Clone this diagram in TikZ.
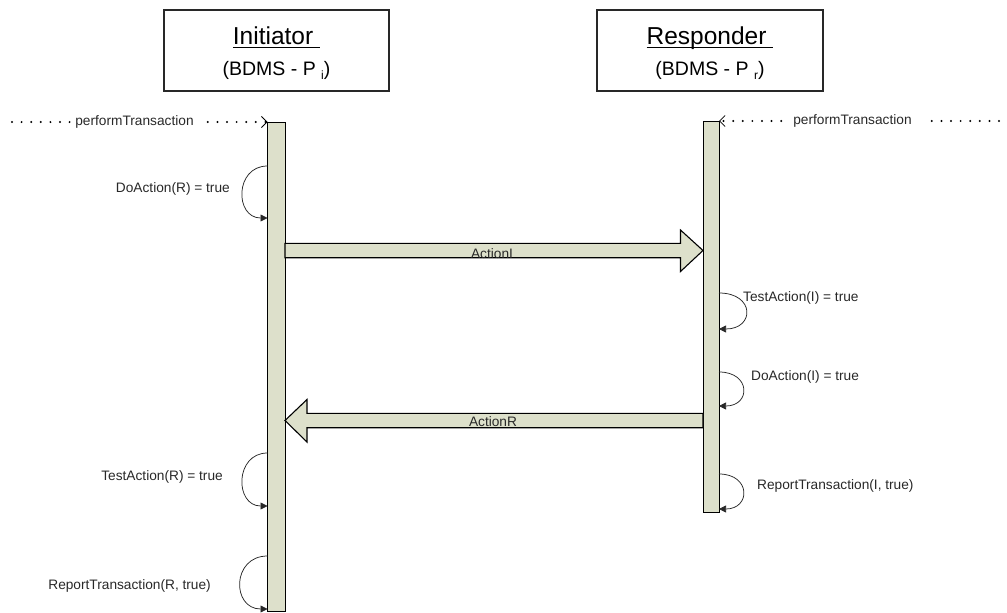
\documentclass[tikz,border=0pt]{standalone}
\usepackage{fontspec}
\setmainfont{Liberation Sans}
\usetikzlibrary{arrows.meta,calc}
\definecolor{barfill}{RGB}{221,224,203}
\definecolor{inkgray}{RGB}{40,40,40}
% underline drawn close to the baseline, trailing space included
\newsavebox\ulsave
\newcommand\ulword[1]{\sbox\ulsave{#1}\rlap{\rule[-3.4pt]{\wd\ulsave}{1.2pt}}\usebox\ulsave}
\begin{document}
\begin{tikzpicture}[x=1pt,y=-1pt,
  objbox/.style={draw=inkgray,line width=1.2pt,minimum width=#1,minimum height=81,inner sep=0,outer sep=0},
  titletxt/.style={inner sep=0,font=\fontsize{24.5}{26}\selectfont},
  subtxt/.style={inner sep=0,font=\fontsize{19.5}{22}\selectfont},
  lifebar/.style={draw=black,line width=1pt,fill=barfill,inner sep=0,outer sep=0,minimum width=#1},
  lbl/.style={inner sep=0,font=\fontsize{13.7}{15}\selectfont,text=inkgray},
  selfloop/.style={draw=inkgray,line width=0.75pt,-{Triangle[length=7pt,width=7pt]}},
  dotline/.style={draw=black,line width=2.2pt,line cap=round,dash pattern=on 0pt off 9.6pt},
  barb/.style={-{Straight Barb[length=5.5pt,width=11pt,line width=0.8pt]}},
  blockarrow/.style={draw=black,line width=1.1pt,fill=barfill,line join=miter},
]
\useasboundingbox (0,0) rectangle (1007,613);

% object boxes
\node[objbox=225] (init) at (276.5,50.5) {};
\node[objbox=226] (resp) at (710,50.5) {};
\node[titletxt,anchor=base] (initT) at (276.5,44.5) {\ulword{Initiator\ }};
\node[subtxt,anchor=base] (initS) at (276.5,75.5) {(BDMS - P\ \raisebox{-4pt}{\fontsize{12}{12}\selectfont i})};
\node[titletxt,anchor=base] (respT) at (710,44.5) {\ulword{Responder\ }};
\node[subtxt,anchor=base] (respS) at (710,75.5) {(BDMS - P\ \raisebox{-4pt}{\fontsize{12}{12}\selectfont r})};

% activation bars
\node[lifebar=17.5,minimum height=489] (barI) at (276.25,366.5) {};
\node[lifebar=16,minimum height=391] (barR) at (711,316.5) {};

% incoming performTransaction calls
\coordinate (inL) at (12,122);
\coordinate (inR) at (1003,121);
\node[lbl,anchor=base] (pL) at (134.5,125.5) {performTransaction};
\node[lbl,anchor=base] (pR) at (852.5,124.5) {performTransaction};
\draw[dotline] (inL) -- ([xshift=-4pt]pL.west |- inL);
\draw[dotline,barb] ([xshift=14pt]pL.east |- inL) -- (barI.north west);
\draw[dotline,barb] ([xshift=-12pt]pR.west |- inR) -- (barR.north east);
\draw[dotline] ([xshift=20pt]pR.east |- inR) -- (inR);

% Initiator self calls
\draw[selfloop] (barI.west |- 0,166) .. controls +(-33,0) and +(-33,0) .. (barI.west |- 0,218);
\node[lbl,anchor=base east] (doR) at (230,192) {DoAction(R) = true};
\draw[selfloop] (barI.west |- 0,453) .. controls +(-33,0) and +(-33,0) .. (barI.west |- 0,506);
\node[lbl,anchor=base east] (testR) at (223,480) {TestAction(R) = true};
\draw[selfloop] (barI.west |- 0,556) .. controls +(-36,0) and +(-36,0) .. (barI.west |- 0,609);
\node[lbl,anchor=base east] (repR) at (211,589) {ReportTransaction(R, true)};

% Responder self calls
\draw[selfloop] (barR.east |- 0,293) .. controls +(36,0) and +(36,0) .. (barR.east |- 0,329);
\node[lbl,anchor=base west] (testI) at (743,301) {TestAction(I) = true};
\draw[selfloop] (barR.east |- 0,372) .. controls +(32,0) and +(32,0) .. (barR.east |- 0,406);
\node[lbl,anchor=base west] (doI) at (751,380) {DoAction(I) = true};
\draw[selfloop] (barR.east |- 0,474) .. controls +(32,0) and +(32,0) .. (barR.east |- 0,509);
\node[lbl,anchor=base west] (repI) at (757,489) {ReportTransaction(I, true)};

% ActionI: Initiator -> Responder
\coordinate (aIs) at (barI.east |- 0,250.5);
\coordinate (aIe) at (barR.west |- 0,250.5);
\draw[blockarrow] ($(aIs)+(0,-7.2)$) -- ($(aIe)+(-22.5,-7.2)$) -- ($(aIe)+(-22.5,-20.5)$)
  -- (aIe) -- ($(aIe)+(-22.5,21)$) -- ($(aIe)+(-22.5,7.2)$) -- ($(aIs)+(0,7.2)$) -- cycle;
\node[lbl,anchor=base] (actI) at (492,258) {ActionI};

% ActionR: Responder -> Initiator
\coordinate (aRs) at (barR.west |- 0,420.5);
\coordinate (aRe) at (barI.east |- 0,420.5);
\draw[blockarrow] ($(aRs)+(0,-7.2)$) -- ($(aRe)+(22,-7.2)$) -- ($(aRe)+(22,-21)$)
  -- (aRe) -- ($(aRe)+(22,21.5)$) -- ($(aRe)+(22,7.2)$) -- ($(aRs)+(0,7.2)$) -- cycle;
\node[lbl,anchor=base] (actR) at (493,426.5) {ActionR};
\end{tikzpicture}
\end{document}
